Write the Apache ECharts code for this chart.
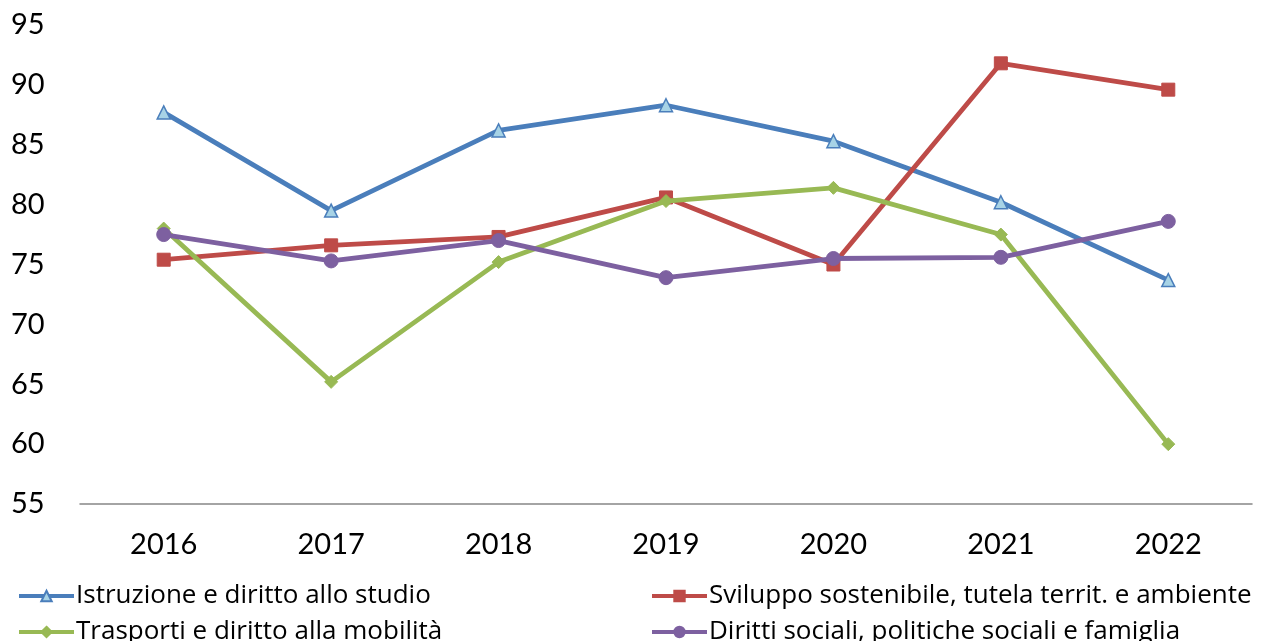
<!DOCTYPE html>
<html>
<head>
<meta charset="utf-8">
<script src="https://cdn.jsdelivr.net/npm/echarts@6/dist/echarts.min.js"></script>
<style>
html,body{margin:0;padding:0;background:#fff;}
#chart{width:1264px;height:641px;}
</style>
</head>
<body>
<div id="chart"></div>
<script>
const categories = ['2016','2017','2018','2019','2020','2021','2022'];
const seriesNames = [
  'Istruzione e diritto allo studio',
  'Sviluppo sostenibile, tutela territ. e ambiente',
  'Trasporti e diritto alla mobilità',
  'Diritti sociali, politiche sociali e famiglia'
];
const istruzione = [87.7, 79.5, 86.2, 88.3, 85.3, 80.2, 73.7];
const sviluppo   = [75.4, 76.6, 77.3, 80.6, 75.0, 91.8, 89.6];
const trasporti  = [78.0, 65.2, 75.2, 80.3, 81.4, 77.5, 60.0];
const diritti    = [77.5, 75.3, 77.0, 73.9, 75.5, 75.6, 78.6];

const FONT = 'Lato, "Open Sans", sans-serif';
const LEGEND_FONT = '"Open Sans", Lato, sans-serif';
const chart = echarts.init(document.getElementById('chart'), null, {renderer:'canvas'});

function legendAt(name, left, top) {
  return {
    data: [name], left: left, top: top, orient: 'horizontal',
    itemWidth: 55, itemHeight: 13, itemGap: 0, padding: 0,
    lineStyle: {width: 4},
    textStyle: {fontFamily: LEGEND_FONT, fontSize: 26, lineHeight: 26, color: '#000', padding: [0,0,0,-3]},
    selectedMode: false
  };
}

chart.setOption({
  animation: false,
  backgroundColor: '#fff',
  grid: {left: 80, right: 12, top: 25, bottom: 137, containLabel: false},
  legend: [
    legendAt(seriesNames[0], 17, 583),
    legendAt(seriesNames[1], 650, 583),
    legendAt(seriesNames[2], 17, 619),
    legendAt(seriesNames[3], 650, 619)
  ],
  xAxis: {
    type: 'category', data: categories, boundaryGap: true,
    axisLine: {show: true, lineStyle: {color: '#868686', width: 1.5}},
    axisTick: {show: false},
    axisLabel: {fontFamily: FONT, fontSize: 29, color: '#000', margin: 26}
  },
  yAxis: {
    type: 'value', min: 55, max: 95, interval: 5,
    axisLine: {show: false}, axisTick: {show: false},
    splitLine: {show: false},
    axisLabel: {fontFamily: FONT, fontSize: 29, color: '#000', align: 'left', margin: 69}
  },
  series: [
    {
      name: seriesNames[0], type: 'line', data: istruzione,
      symbol: 'triangle', symbolSize: 13,
      lineStyle: {color: '#4A7EBB', width: 4.8},
      itemStyle: {color: '#A7D3E6', borderColor: '#4A7EBB', borderWidth: 1.5},
      z: 2
    },
    {
      name: seriesNames[1], type: 'line', data: sviluppo,
      symbol: 'rect', symbolSize: 13,
      lineStyle: {color: '#BE4B48', width: 4.8},
      itemStyle: {color: '#BE4B48', borderColor: '#BE4B48', borderWidth: 1},
      z: 3
    },
    {
      name: seriesNames[2], type: 'line', data: trasporti,
      symbol: 'diamond', symbolSize: 13,
      lineStyle: {color: '#98B954', width: 4.8},
      itemStyle: {color: '#98B954', borderColor: '#98B954', borderWidth: 1},
      z: 4
    },
    {
      name: seriesNames[3], type: 'line', data: diritti,
      symbol: 'circle', symbolSize: 14,
      lineStyle: {color: '#7D60A0', width: 4.8},
      itemStyle: {color: '#7D60A0', borderColor: '#7D60A0', borderWidth: 1},
      z: 5
    }
  ]
});
</script>
</body>
</html>
